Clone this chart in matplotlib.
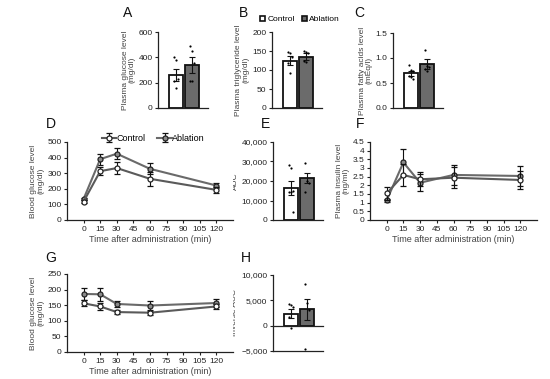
import matplotlib
matplotlib.use("Agg")
import matplotlib.pyplot as plt
from matplotlib.ticker import FuncFormatter
from matplotlib.patches import Patch

plt.rcParams['font.family'] = ['Liberation Sans', 'DejaVu Sans']
plt.rcParams['font.size'] = 6

W, H = 550, 379
groups = ['Control', 'Ablation']
times = [0, 15, 30, 60, 120]
xticks = [0, 15, 30, 45, 60, 75, 90, 105, 120]

# bar panels: means, sem, individual points
a_mean = [260, 337]
a_err = [45, 63]
a_pts = [[400, 380, 228, 212, 159], [486, 451, 353, 217, 212]]

b_mean = [124, 135]
b_err = [12, 9]
b_pts = [[147, 145, 134, 118, 93], [151, 147, 144, 124, 122]]

c_mean = [0.70, 0.88]
c_err = [0.05, 0.10]
c_pts = [[0.86, 0.76, 0.75, 0.65, 0.62, 0.58], [1.17, 0.85, 0.82, 0.78, 0.75]]

e_mean = [16500, 21500]
e_err = [3500, 2500]
e_pts = [[28200, 26900, 14800, 14400, 14300, 4000], [29400, 20000, 19100, 14500]]

h_mean = [2400, 3200]
h_err = [800, 2150]
h_pts = [[4300, 4100, 3700, 1800, -400], [8300, 4400, 3000, -4600]]

# line panels
d_ctrl = [118, 313, 333, 264, 193]
d_ctrl_err = [8, 25, 38, 45, 20]
d_abl = [135, 390, 425, 328, 221]
d_abl_err = [8, 35, 37, 35, 15]

f_ctrl = [1.53, 2.60, 2.35, 2.44, 2.31]
f_ctrl_err = [0.4, 0.64, 0.4, 0.6, 0.5]
f_abl = [1.14, 3.32, 2.15, 2.60, 2.54]
f_abl_err = [0.1, 0.8, 0.5, 0.6, 0.55]

g_ctrl = [156, 146, 128, 126, 146]
g_ctrl_err = [10, 12, 7, 7, 7]
g_abl = [186, 185, 154, 149, 157]
g_abl_err = [20, 20, 11, 15, 13]

fig = plt.figure(figsize=(W / 100, H / 100), dpi=100)

AX_C = '#222222'
LAB_C = '#444444'


def px_axes(left, top, right, bottom):
    return fig.add_axes([left / W, 1 - bottom / H, (right - left) / W, (bottom - top) / H])


def style(ax):
    for s in ['top', 'right']:
        ax.spines[s].set_visible(False)
    for s in ['left', 'bottom']:
        ax.spines[s].set_color(AX_C)
        ax.spines[s].set_linewidth(0.9)
    ax.tick_params(colors=AX_C, labelsize=6, length=2.5, width=0.8, pad=1.5)


def bar_panel(left, top, bottom, mean, err, pts, ylim, yticks, ylabel, fmt=None):
    ax = px_axes(left, top, left + 50, bottom)
    style(ax)
    ax.bar([0, 1], mean, width=0.88, color=['white', '#6b6b6b'],
           edgecolor='#111111', linewidth=1.3, zorder=2)
    ax.errorbar([0, 1], mean, yerr=err, fmt='none', ecolor='#111111',
                elinewidth=0.8, capsize=2.5, capthick=0.8, zorder=3)
    for i, p in enumerate(pts):
        xs = [i + ((k % 3) - 1) * 0.12 for k in range(len(p))]
        ax.scatter(xs, p, s=2.5, color='black', zorder=4, linewidths=0)
    ax.set_xlim(-1.1, 2.0)
    ax.set_ylim(*ylim)
    ax.set_yticks(yticks)
    ax.set_xticks([])
    if fmt:
        ax.yaxis.set_major_formatter(fmt)
    ax.set_ylabel(ylabel, fontsize=6, color=LAB_C, linespacing=1.0, labelpad=2)
    return ax


def line_panel(left, top, right, bottom, ctrl, ctrl_err, abl, abl_err, ylim, yticks, ylabel, legend=False, fmt=None):
    ax = px_axes(left, top, right, bottom)
    style(ax)
    ax.errorbar(times, abl, yerr=abl_err, color='#6a6a6a', lw=1.5, marker='o', ms=3.6,
                mfc='#8a8a8a', mec='#222222', mew=0.9, ecolor='#111111', elinewidth=0.8,
                capsize=2, capthick=0.8, label='Ablation', zorder=3)
    ax.errorbar(times, ctrl, yerr=ctrl_err, color='#5a5a5a', lw=1.5, marker='o', ms=3.6,
                mfc='white', mec='#222222', mew=0.9, ecolor='#111111', elinewidth=0.8,
                capsize=2, capthick=0.8, label='Control', zorder=4)
    ax.set_xlim(-15, 135)
    ax.set_xticks(xticks)
    ax.set_ylim(*ylim)
    ax.set_yticks(yticks)
    if fmt:
        ax.yaxis.set_major_formatter(fmt)
    ax.set_xlabel('Time after administration (min)', fontsize=6.5, color=LAB_C, labelpad=1.5)
    ax.set_ylabel(ylabel, fontsize=6, color=LAB_C, linespacing=1.0, labelpad=2)
    if legend:
        h, l = ax.get_legend_handles_labels()
        ax.legend(h[::-1], l[::-1], loc='lower center', bbox_to_anchor=(0.52, 0.93), ncol=2,
                  frameon=False, fontsize=6.5, handlelength=1.6, columnspacing=1.3,
                  handletextpad=0.05, borderpad=0)
    return ax


comma = FuncFormatter(lambda v, p: ('\u2212' if v < 0 else '') + '{:,.0f}'.format(abs(v)))

bar_panel(158, 32, 108, a_mean, a_err, a_pts, (0, 600), [0, 200, 400, 600],
          'Plasma glucose level\n(mg/dl)')
axb = bar_panel(272, 32, 108, b_mean, b_err, b_pts, (0, 200), [0, 50, 100, 150, 200],
                'Plasma triglyceride level\n(mg/dl)')
bar_panel(393, 33, 108, c_mean, c_err, c_pts, (0, 1.5), [0, 0.5, 1.0, 1.5],
          'Plasma fatty acids level\n(mEq/l)', fmt=FuncFormatter(lambda v, p: '%.1f' % v))
bar_panel(273, 142, 220, e_mean, e_err, e_pts, (0, 40000), [0, 10000, 20000, 30000, 40000],
          'AUC', fmt=comma)
axh = bar_panel(273, 275, 351, h_mean, h_err, h_pts, (-5000, 10000), [-5000, 0, 5000, 10000],
                'Inverse AUC', fmt=comma)
axh.spines['bottom'].set_position(('data', 0))
axh.axhline(-5000, color=AX_C, lw=0.9, clip_on=False)

# bar legend above B
axb.legend([Patch(facecolor='white', edgecolor='#111111', lw=1.2),
            Patch(facecolor='#6b6b6b', edgecolor='#111111', lw=1.2)], groups,
           loc='lower left', bbox_to_anchor=(-0.32, 1.06), ncol=2, frameon=False,
           fontsize=6, handlelength=0.6, handleheight=0.6, handletextpad=0.25,
           columnspacing=0.9, borderpad=0)

line_panel(67, 142, 233, 220, d_ctrl, d_ctrl_err, d_abl, d_abl_err, (0, 500),
           [0, 100, 200, 300, 400, 500], 'Blood glucose level\n(mg/dl)', legend=True)
line_panel(370, 142, 537, 220, f_ctrl, f_ctrl_err, f_abl, f_abl_err, (0, 4.5),
           [0, 0.5, 1, 1.5, 2, 2.5, 3, 3.5, 4, 4.5], 'Plasma insulin level\n(ng/ml)',
           fmt=FuncFormatter(lambda v, p: '%g' % v))
line_panel(67, 274, 233, 352, g_ctrl, g_ctrl_err, g_abl, g_abl_err, (0, 250),
           [0, 50, 100, 150, 200, 250], 'Blood glucose level\n(mg/dl)')

# panel letters
for letter, x, y in [('A', 128, 13), ('B', 243, 13), ('C', 359, 13), ('D', 51, 124),
                     ('E', 266, 124), ('F', 360, 124), ('G', 51, 258), ('H', 246, 258)]:
    fig.text(x / W, 1 - y / H, letter, fontsize=10, ha='center', va='center', color='#111111')

fig.savefig('out.png', dpi=100)
